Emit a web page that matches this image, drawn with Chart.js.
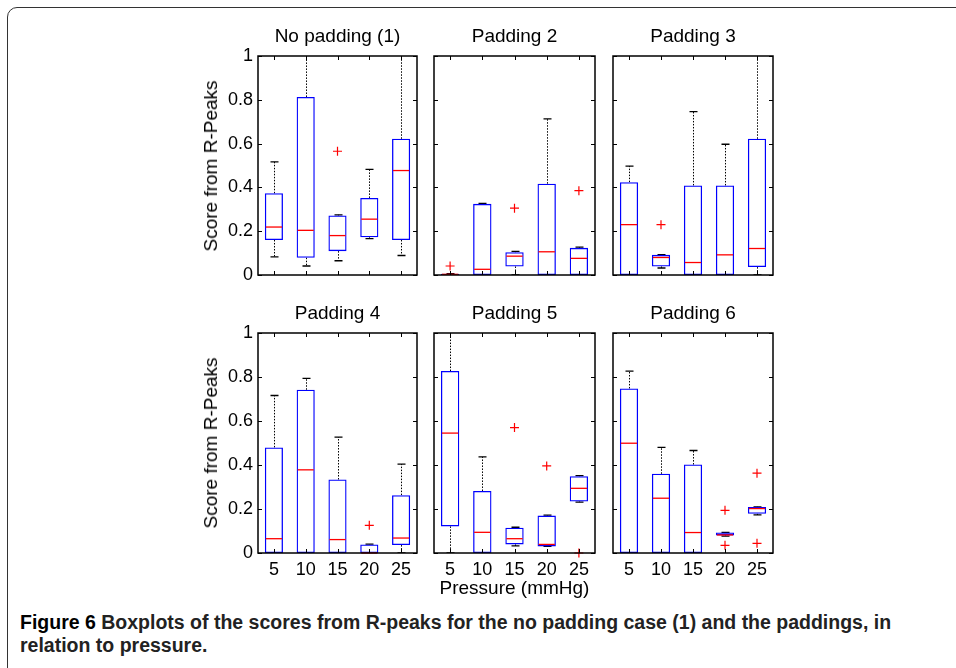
<!DOCTYPE html>
<html>
<head>
<meta charset="utf-8">
<script src="https://cdn.jsdelivr.net/npm/chart.js@4.4.1/dist/chart.umd.min.js"></script>
<style>
  body { margin: 0; width: 956px; height: 668px; background: #fff; overflow: hidden; position: relative; font-family: 'Liberation Sans', Arial, sans-serif; }
  .frame { position: absolute; left: 7px; top: 7px; width: 1000px; height: 700px; border: 1.5px solid #333; border-radius: 10px; }
  canvas { position: absolute; }
  .ptitle { position: absolute; font-size: 19px; line-height: 22px; color: #000; transform: translateX(-50%); white-space: nowrap; }
  .ytitle { position: absolute; font-size: 19px; color: #000; transform: translate(-50%, -50%) rotate(-90deg); white-space: nowrap; }
  .xtitle { position: absolute; font-size: 19px; line-height: 22px; color: #000; transform: translateX(-50%); white-space: nowrap; }
  .caption { position: absolute; left: 20px; top: 611px; font-family: 'Liberation Sans', sans-serif; font-weight: bold; font-size: 19.5px; line-height: 23px; color: #222; }
  .caption b { color: #000; }
</style>
</head>
<body>
<div class="frame"></div>

<script>
// ── DATA ─────────────────────────────────────────────
const pressures = ['5', '10', '15', '20', '25'];
const panelTitles = ['No padding (1)', 'Padding 2', 'Padding 3', 'Padding 4', 'Padding 5', 'Padding 6'];
const yTicks = [0, 0.2, 0.4, 0.6, 0.8, 1];

// one row per panel, one value per pressure
const whiskerLow = [
  [0.083, 0.041, 0.065, 0.166, 0.089],
  [0, 0, 0, 0, 0],
  [0, 0.032, 0, 0, 0],
  [0, 0, 0, 0, 0],
  [0, 0, 0.032, 0.03, 0.231],
  [0, 0, 0, 0.077, 0.173]
];
const quartile1 = [
  [0.160, 0.079, 0.109, 0.172, 0.160],
  [0, 0, 0.039, 0, 0],
  [0, 0.039, 0, 0, 0.036],
  [0, 0, 0, 0, 0.036],
  [0.121, 0, 0.039, 0.03, 0.234],
  [0, 0, 0, 0.08, 0.178]
];
const medians = [
  [0.219, 0.204, 0.18, 0.255, 0.477],
  [0.003, 0.026, 0.086, 0.106, 0.076],
  [0.23, 0.08, 0.057, 0.092, 0.121],
  [0.065, 0.378, 0.061, 0, 0.068],
  [0.545, 0.094, 0.065, 0.039, 0.294],
  [0.499, 0.249, 0.093, 0.082, 0.202]
];
const quartile3 = [
  [0.373, 0.813, 0.272, 0.352, 0.622],
  [0.006, 0.325, 0.104, 0.417, 0.124],
  [0.424, 0.092, 0.409, 0.409, 0.622],
  [0.48, 0.742, 0.334, 0.039, 0.263],
  [0.827, 0.282, 0.115, 0.17, 0.349],
  [0.748, 0.36, 0.402, 0.093, 0.209]
];
const whiskerHigh = [
  [0.517, 1.05, 0.275, 0.482, 1.05],
  [0.006, 0.327, 0.108, 0.713, 0.127],
  [0.497, 0.093, 0.746, 0.597, 1.05],
  [0.716, 0.794, 0.527, 0.04, 0.404],
  [1.05, 0.437, 0.117, 0.172, 0.352],
  [0.827, 0.48, 0.466, 0.094, 0.21]
];
const outliers = [
  [['15', 0.565]],
  [['5', 0.041], ['15', 0.305], ['25', 0.385]],
  [['10', 0.23]],
  [['20', 0.126]],
  [['15', 0.57], ['20', 0.396], ['25', 0]],
  [['20', 0.194], ['20', 0.035], ['25', 0.363], ['25', 0.044]]
];

// ── LAYOUT (plot areas in page px) ───────────────────
const colLeft = [258, 434, 613];
const colRight = [417, 595, 773];
const rowTop = [56, 333];
const rowBottom = [275, 553];
const PAD_L = 60, PAD_T = 14, PAD_R = 6, PAD_B = 30;

const FONT = "'Liberation Sans', Arial, sans-serif";

// ── Whiskers, medians, frame + inward ticks ─────────
const boxDecor = {
  id: 'boxDecor',
  beforeDatasetsDraw(chart, args, opts) {
    const { ctx, chartArea: ca } = chart;
    const y = chart.scales.y;
    const meta = chart.getDatasetMeta(0);
    ctx.save();
    ctx.beginPath();
    ctx.rect(ca.left, ca.top, ca.right - ca.left, ca.bottom - ca.top);
    ctx.clip();
    meta.data.forEach((bar, i) => {
      const x = Math.round(bar.x) + 0.5;
      const yHi = y.getPixelForValue(opts.hi[i]);
      const yLo = y.getPixelForValue(opts.lo[i]);
      const yQ3 = y.getPixelForValue(opts.q3[i]);
      const yQ1 = y.getPixelForValue(opts.q1[i]);
      ctx.strokeStyle = '#000';
      ctx.lineWidth = 1;
      ctx.setLineDash([1.5, 1.5]);
      ctx.beginPath();
      ctx.moveTo(x, yQ3); ctx.lineTo(x, yHi);
      ctx.moveTo(x, yQ1); ctx.lineTo(x, yLo);
      ctx.stroke();
      ctx.setLineDash([]);
      ctx.lineWidth = 1.3;
      ctx.beginPath();
      ctx.moveTo(x - 4, yHi); ctx.lineTo(x + 4, yHi);
      ctx.moveTo(x - 4, yLo); ctx.lineTo(x + 4, yLo);
      ctx.stroke();
    });
    ctx.restore();
  },
  afterDatasetsDraw(chart, args, opts) {
    const { ctx, chartArea: ca } = chart;
    const x = chart.scales.x, y = chart.scales.y;
    const meta = chart.getDatasetMeta(0);
    ctx.save();
    // medians
    ctx.strokeStyle = '#ff0000';
    ctx.lineWidth = 1.3;
    meta.data.forEach((bar, i) => {
      const ym = y.getPixelForValue(opts.med[i]);
      ctx.beginPath();
      ctx.moveTo(bar.x - bar.width / 2 + 1, ym);
      ctx.lineTo(bar.x + bar.width / 2 - 1, ym);
      ctx.stroke();
    });
    // frame
    ctx.strokeStyle = '#000';
    ctx.lineWidth = 1.5;
    ctx.strokeRect(ca.left, ca.top, ca.right - ca.left, ca.bottom - ca.top);
    // inward ticks
    ctx.lineWidth = 1;
    ctx.beginPath();
    yTicks.forEach(v => {
      const py = Math.round(y.getPixelForValue(v)) + 0.5;
      ctx.moveTo(ca.left, py); ctx.lineTo(ca.left + 4, py);
      ctx.moveTo(ca.right, py); ctx.lineTo(ca.right - 4, py);
    });
    pressures.forEach((p, i) => {
      const px = Math.round(x.getPixelForValue(i)) + 0.5;
      ctx.moveTo(px, ca.bottom); ctx.lineTo(px, ca.bottom - 4);
      ctx.moveTo(px, ca.top); ctx.lineTo(px, ca.top + 4);
    });
    ctx.stroke();
    ctx.restore();
  }
};

function addText(cls, text, left, top) {
  const d = document.createElement('div');
  d.className = cls;
  d.textContent = text;
  d.style.left = left + 'px';
  d.style.top = top + 'px';
  document.body.appendChild(d);
}

// ── BUILD PANELS ─────────────────────────────────────
panelTitles.forEach((title, p) => {
  const col = p % 3, row = Math.floor(p / 3);
  const w = colRight[col] - colLeft[col] + PAD_L + PAD_R;
  const h = rowBottom[row] - rowTop[row] + PAD_T + PAD_B;

  const canvas = document.createElement('canvas');
  canvas.width = w; canvas.height = h;
  canvas.style.left = (colLeft[col] - PAD_L) + 'px';
  canvas.style.top = (rowTop[row] - PAD_T) + 'px';
  canvas.style.width = w + 'px'; canvas.style.height = h + 'px';
  document.body.appendChild(canvas);

  addText('ptitle', title, (colLeft[col] + colRight[col]) / 2, rowTop[row] - 31);
  if (col === 0) addText('ytitle', 'Score from R-Peaks', 211, (rowTop[row] + rowBottom[row]) / 2);

  new Chart(canvas.getContext('2d'), {
    type: 'bar',
    data: {
      labels: pressures,
      datasets: [{
        data: quartile1[p].map((q, i) => [q, quartile3[p][i]]),
        backgroundColor: 'rgba(0,0,0,0)',
        borderColor: '#0000ff',
        borderWidth: 1.3,
        borderSkipped: false,
        barPercentage: 0.57,
        categoryPercentage: 1.0
      }, {
        type: 'line',
        data: outliers[p].map(o => ({ x: o[0], y: o[1] })),
        showLine: false,
        pointStyle: 'cross',
        pointRadius: 4.5,
        pointBorderWidth: 1.2,
        borderColor: '#ff0000',
        backgroundColor: '#ff0000',
        clip: 10
      }]
    },
    options: {
      responsive: false,
      animation: false,
      devicePixelRatio: 1,
      layout: { padding: { left: 0, top: PAD_T, right: PAD_R, bottom: 0 } },
      plugins: {
        legend: { display: false },
        tooltip: { enabled: false },
        boxDecor: {
          lo: whiskerLow[p], q1: quartile1[p], med: medians[p],
          q3: quartile3[p], hi: whiskerHigh[p]
        }
      },
      scales: {
        x: {
          offset: true,
          grid: { display: false, drawTicks: false },
          border: { display: false },
          ticks: { display: row === 1, color: '#000', padding: 6, font: { family: FONT, size: 18 } },
          afterFit: s => { s.height = PAD_B; s.paddingLeft = 0; s.paddingRight = 0; }
        },
        y: {
          min: 0, max: 1,
          grid: { display: false, drawTicks: false },
          border: { display: false },
          ticks: {
            display: col === 0, stepSize: 0.2, color: '#000', padding: 5,
            font: { family: FONT, size: 18 },
            callback: v => String(+v.toFixed(1))
          },
          afterFit: s => { s.width = PAD_L; s.paddingTop = 0; s.paddingBottom = 0; }
        }
      }
    },
    plugins: [boxDecor]
  });
});

addText('xtitle', 'Pressure (mmHg)', (colLeft[1] + colRight[1]) / 2, 577);
</script>

<div class="caption"><b>Figure 6</b> Boxplots of the scores from R-peaks for the no padding case (1) and the paddings, in<br>relation to pressure.</div>
</body>
</html>
